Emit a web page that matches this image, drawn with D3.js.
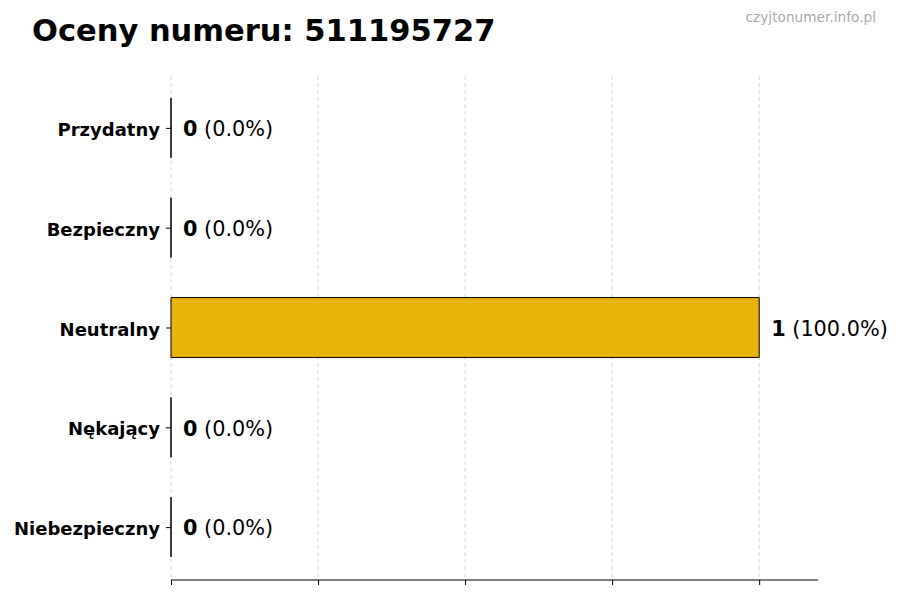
<!DOCTYPE html>
<html><head><meta charset="utf-8">
<script src="https://cdn.jsdelivr.net/npm/d3@7"></script>
<style>body{margin:0;background:#fff}svg{display:block}text{font-family:"DejaVu Sans",sans-serif}</style>
</head><body><div id="chart"></div>
<script>
const categories = ["Przydatny","Bezpieczny","Neutralny","Nękający","Niebezpieczny"];
const counts = [0,0,1,0,0];
const percents = [0.0,0.0,100.0,0.0,0.0];
const xTicks = [0,0.25,0.5,0.75,1.0];
const titleText = "Oceny numeru: 511195727";
const watermark = "czyjtonumer.info.pl";
const barColor = "#E8B40A";

(function(){
const W=900,H=600;
const svg=d3.select("#chart").append("svg").attr("width",W).attr("height",H);
const mL=171,mR=818,mT=76,mB=580;
const x=d3.scaleLinear().domain([0,1.1]).range([mL,mR]);
const y=d3.scaleLinear().domain([4.53,-0.52]).range([mB,mT]);
const yPos=i=>y(i);
const barH=Math.abs(y(0.3)-y(-0.3));

svg.append("g").selectAll("line").data(xTicks).join("line")
 .attr("x1",d=>x(d)).attr("x2",d=>x(d)).attr("y1",mT).attr("y2",mB)
 .attr("stroke","#cccccc").attr("stroke-width",0.8).attr("stroke-dasharray","4,3");

svg.append("g").selectAll("path").data(counts).join("path")
 .attr("d",(d,i)=>{const x0=x(0),x1=x(d),y0=yPos(i)-barH/2,y1=yPos(i)+barH/2;
   return `M${x0},${y0}H${x1}V${y1}H${x0}Z`;})
 .attr("fill",barColor).attr("stroke","#000").attr("stroke-width",1);

const xAxis=d3.axisBottom(x).tickValues(xTicks).tickFormat("").tickSize(5).tickSizeOuter(0);
const gx=svg.append("g").attr("transform",`translate(0,${mB})`).call(xAxis);
gx.select(".domain").attr("stroke","#000").attr("stroke-width",1.2).attr("d",`M${mL},0H${mR}`);
gx.selectAll(".tick line").attr("stroke","#000").attr("stroke-width",1);

const yAxis=d3.axisLeft(d3.scalePoint().domain(categories).range([yPos(0),yPos(4)])).tickSize(5).tickPadding(6);
const gy=svg.append("g").attr("transform",`translate(${mL},0)`).call(yAxis);
gy.select(".domain").remove();
gy.selectAll(".tick line").attr("stroke","#000").attr("stroke-width",1);
gy.selectAll(".tick text").attr("font-size",18).attr("font-weight","bold").attr("fill","#000")
 .attr("font-family","DejaVu Sans").attr("dy","0.42em");

const lab=svg.append("g").selectAll("text").data(counts).join("text")
 .attr("x",d=>x(d)+12).attr("y",(d,i)=>yPos(i)).attr("dy","0.4em")
 .attr("font-size",20.8).attr("fill","#000");
lab.append("tspan").attr("font-weight","bold").text(d=>d);
lab.append("tspan").text((d,i)=>" ("+percents[i].toFixed(1)+"%)");

svg.append("text").attr("x",32).attr("y",41).attr("font-size",30.5).attr("font-weight","bold").attr("fill","#000").text(titleText);
svg.append("text").attr("x",876).attr("y",22).attr("text-anchor","end").attr("font-size",13.7).attr("fill","#aaaaaa").text(watermark);
})();
</script></body></html>
